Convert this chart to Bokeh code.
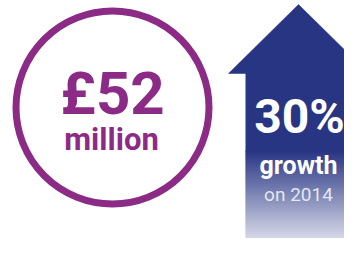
import numpy as np
from bokeh.plotting import figure
from bokeh.models import Range1d
from bokeh.core.properties import value
from bokeh.embed import file_html
from bokeh.resources import INLINE

# Data (infographic values)
amount_label = ["£52"]
amount_unit = ["million"]
growth_label = ["30%"]
growth_word = ["growth"]
growth_base = ["on 2014"]

PURPLE = "#8C2B86"
NAVY = (40, 53, 131)
NAVY_HEX = "#%02x%02x%02x" % NAVY
FONT = value("Roboto")

W, H = 344, 238
p = figure(width=W, height=H, output_backend="svg", toolbar_location=None,
           x_range=Range1d(0, W), y_range=Range1d(H, 0),
           min_border=0, outline_line_color=None, background_fill_color="white",
           border_fill_color="white")
p.axis.visible = False
p.grid.visible = False

# Circle
p.circle(x=[112], y=[107], radius=96.5, fill_color=None,
         line_color=PURPLE, line_width=7)


def label(x, baseline, txt, size, color, bold=True, alpha=1.0):
    p.text(x=[x], y=[baseline - 0.34 * size], text=txt, text_font=FONT,
           text_font_size=f"{size}px", text_font_style="bold" if bold else "normal",
           text_color=color, text_alpha=alpha, text_align="center",
           text_baseline="alphabetic")


label(112, 113, amount_label, 60, PURPLE)
label(111, 150, amount_unit, 31, PURPLE)

# Arrow head
p.patch(x=[228, 298, 368], y=[73, 4, 73], fill_color=NAVY_HEX, line_color=NAVY_HEX, line_width=0.5)
# Shaft solid part
p.quad(left=[245], right=[351], top=[72.5], bottom=[151], fill_color=NAVY_HEX, line_color=None)
# Shaft gradient part (opaque blended bands)
edges = np.arange(150, 255, 1.0)
t = np.linspace(0.0, 0.95, len(edges) - 1)
cols = ["#%02x%02x%02x" % tuple(int(round(c + (255 - c) * f)) for c in NAVY) for f in t]
p.quad(left=245, right=351, top=edges[:-1], bottom=edges[1:] + 0.5,
       fill_color=cols, line_color=None)

label(299, 132, growth_label, 48, "white")
label(298, 173, growth_word, 25, "white")
label(298, 200, growth_base, 19, "#e4e6f2", bold=False)

open("out.html", "w").write(file_html(p, INLINE))
